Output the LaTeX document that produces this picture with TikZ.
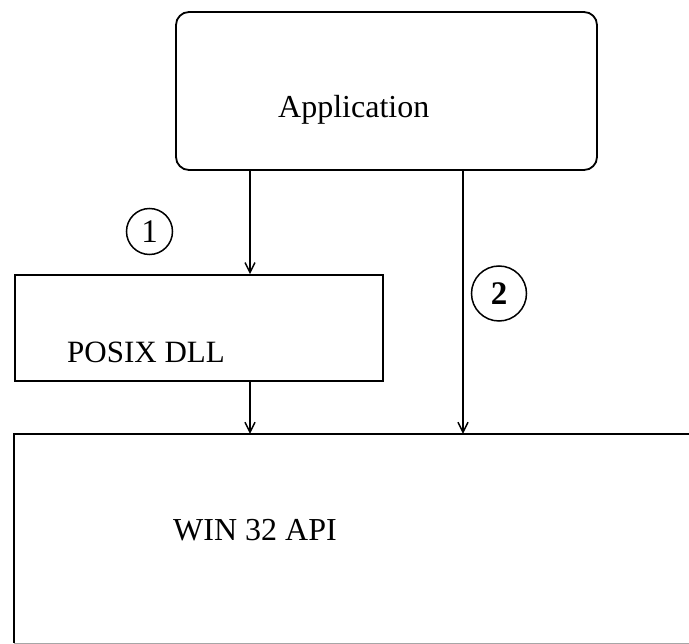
\documentclass[tikz,border=0pt]{standalone}
\usepackage{fontspec}
\setmainfont{Liberation Serif}
\usetikzlibrary{arrows.meta}
\begin{document}
\begin{tikzpicture}[x=1pt,y=-1pt,
  boxline/.style={draw=black,line width=1.8pt},
  lbl/.style={inner sep=0pt,anchor=base west},
  arr/.style={line width=1.7pt,-{Straight Barb[length=10pt,width=10pt,line width=1.4pt]}},
  numcirc/.style={circle,draw=black,line width=1.5pt,inner sep=0pt,font=\fontsize{33}{33}\selectfont}]
\useasboundingbox (0,0) rectangle (689,644);
% Application box
\node[boxline,rounded corners=13pt,minimum width=421pt,minimum height=158pt,inner sep=0pt] (app) at (386.5,91) {};
\node[lbl,font=\fontsize{32}{33}\selectfont] (apptxt) at (278,118) {Application};
% POSIX DLL box
\node[boxline,minimum width=368pt,minimum height=106pt,inner sep=0pt] (posix) at (199,328) {};
\node[lbl,font=\fontsize{31}{32}\selectfont] (posixtxt) at (67,363) {POSIX DLL};
% WIN 32 API box (extends past right edge)
\node[minimum width=700pt,minimum height=209pt,inner sep=0pt] (win) at (364,538.5) {};
\draw[boxline] (win.north east) -- (win.north west) -- (win.south west);
\draw[draw=black!35,line width=1.2pt] (win.south west) -- (win.south east);
\node[lbl,font=\fontsize{32}{33}\selectfont] (wintxt) at (173,540) {WIN 32 API};
% connectors
\coordinate (xa) at (250,0);
\coordinate (xb) at (463,0);
\draw[arr] (app.south -| xa) -- (posix.north -| xa);
\draw[arr] (posix.south -| xa) -- (win.north -| xa);
\draw[arr] (app.south -| xb) -- (win.north -| xb);
% numbered circles
\node[numcirc,minimum size=46pt] (c1) at (149.5,231.5) {1};
\node[numcirc,minimum size=55pt,font=\fontsize{33}{33}\selectfont\bfseries] (c2) at (499,293.5) {2};
\end{tikzpicture}
\end{document}
